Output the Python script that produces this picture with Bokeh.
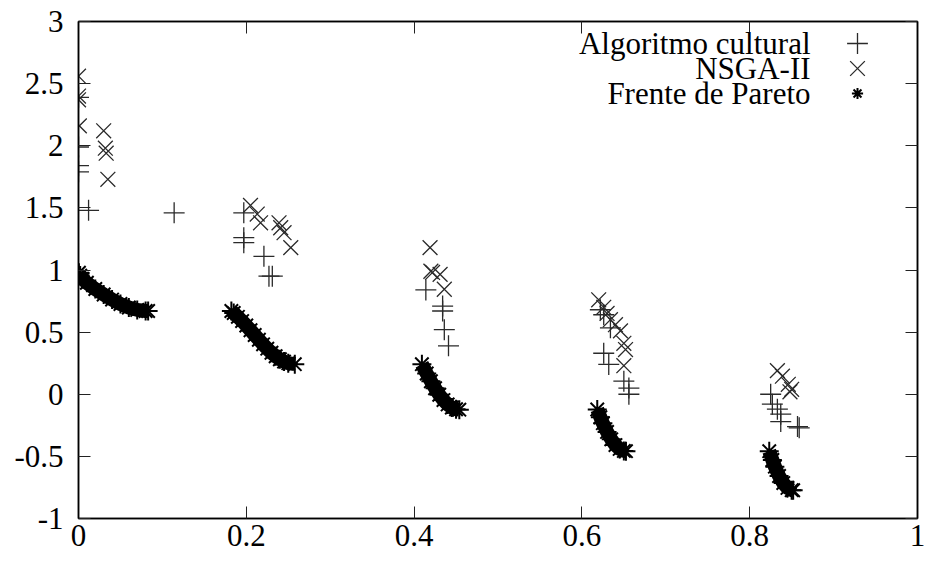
import math
from bokeh.plotting import figure
from bokeh.models import (LinearAxis, FixedTicker, Legend, LegendItem, Label,
                          CustomJSTickFormatter, Range1d)
from bokeh.core.properties import value
from bokeh.embed import file_html
from bokeh.resources import INLINE

# ---------------- data ----------------
x_ticks = [0, 0.2, 0.4, 0.6, 0.8, 1]
x_tick_labels = ["0", "0.2", "0.4", "0.6", "0.8", "1"]
y_ticks = [-1, -0.5, 0, 0.5, 1, 1.5, 2, 2.5, 3]
y_tick_labels = ["-1", "-0.5", "0", "0.5", "1", "1.5", "2", "2.5", "3"]

series_names = ["Algoritmo cultural", "NSGA-II", "Frente de Pareto"]

cultural_x = [0.0, 0.0, 0.0, 0.0, 0.012, 0.114, 0.197, 0.197, 0.197, 0.221, 0.227, 0.231,
              0.414, 0.434, 0.434, 0.436, 0.441,
              0.622, 0.626, 0.634, 0.626, 0.632, 0.650, 0.656, 0.656,
              0.825, 0.827, 0.833, 0.837, 0.837, 0.857, 0.859]
cultural_y = [2.39, 1.99, 1.84, 1.79, 1.48, 1.46, 1.46, 1.26, 1.22, 1.11, 0.95, 0.95,
              0.84, 0.71, 0.67, 0.52, 0.39,
              0.68, 0.64, 0.535, 0.33, 0.24, 0.105, 0.05, 0.0,
              0.0, -0.08, -0.12, -0.16, -0.22, -0.26, -0.27]

nsga_x = [0.0, 0.0, 0.0, 0.001, 0.030, 0.032, 0.033, 0.035,
          0.205, 0.213, 0.217, 0.239, 0.241, 0.245, 0.253,
          0.419, 0.420, 0.422, 0.431, 0.436,
          0.620, 0.626, 0.630, 0.634, 0.640, 0.646, 0.650, 0.652, 0.650,
          0.833, 0.839, 0.846, 0.848, 0.850]
nsga_y = [2.56, 2.40, 2.37, 2.16, 2.12, 1.98, 1.94, 1.73,
          1.52, 1.45, 1.38, 1.38, 1.34, 1.30, 1.18,
          1.18, 0.99, 0.98, 0.965, 0.845,
          0.76, 0.70, 0.65, 0.60, 0.56, 0.51, 0.41, 0.36, 0.23,
          0.19, 0.145, 0.08, 0.02, 0.04]

pareto_x1 = [0.0005, 0.002, 0.005, 0.01, 0.02, 0.03, 0.04, 0.05, 0.06, 0.07, 0.08, 0.083]
pareto_y1 = [0.978, 0.955, 0.928, 0.897, 0.847, 0.803, 0.762, 0.726, 0.698, 0.679, 0.670, 0.670]
pareto_x2 = [0.1822, 0.185, 0.19, 0.195, 0.20, 0.205, 0.21, 0.215, 0.22, 0.225, 0.23, 0.235, 0.24, 0.245, 0.25, 0.2578]
pareto_y2 = [0.670, 0.654, 0.623, 0.589, 0.553, 0.515, 0.477, 0.439, 0.402, 0.367, 0.334, 0.306, 0.282, 0.263, 0.250, 0.242]
pareto_x3 = [0.4093, 0.415, 0.42, 0.425, 0.43, 0.435, 0.44, 0.445, 0.45, 0.4539]
pareto_y3 = [0.242, 0.167, 0.105, 0.048, -0.004, -0.047, -0.082, -0.107, -0.121, -0.124]
pareto_x4 = [0.6183, 0.622, 0.625, 0.63, 0.635, 0.64, 0.645, 0.65, 0.6525]
pareto_y4 = [-0.122, -0.185, -0.233, -0.303, -0.363, -0.409, -0.440, -0.456, -0.458]
pareto_x5 = [0.8233, 0.827, 0.83, 0.835, 0.84, 0.845, 0.85, 0.8518]
pareto_y5 = [-0.458, -0.529, -0.583, -0.658, -0.715, -0.754, -0.772, -0.773]

# ---------------- figure ----------------
FONT = "Liberation Serif"
FS = "31px"

p = figure(width=925, height=560, output_backend="svg", toolbar_location=None,
           x_range=Range1d(0, 1), y_range=Range1d(-1, 3),
           min_border_left=78, min_border_right=8, min_border_top=21, min_border_bottom=42,
           background_fill_color="white", border_fill_color="white")
p.grid.visible = False
p.outline_line_color = "black"
p.outline_line_width = 1.5

def style_axis(ax):
    ax.axis_line_color = "black"
    ax.axis_line_width = 1.5
    ax.major_tick_in = 12
    ax.major_tick_out = 0
    ax.minor_tick_line_color = None
    ax.major_tick_line_color = "#222222"
    ax.major_tick_line_width = 1
    ax.major_label_text_font = FONT
    ax.major_label_text_font_size = FS
    ax.major_label_text_color = "black"

style_axis(p.xaxis[0])
p.xaxis[0].ticker = FixedTicker(ticks=x_ticks)
p.xaxis[0].major_label_overrides = {t: l for t, l in zip(x_ticks, x_tick_labels)}
p.xaxis[0].major_label_standoff = 6
style_axis(p.yaxis[0])
p.yaxis[0].ticker = FixedTicker(ticks=y_ticks)
p.yaxis[0].major_label_overrides = {t: l for t, l in zip(y_ticks, y_tick_labels)}
p.yaxis[0].major_label_standoff = 15

top_ax = LinearAxis(ticker=FixedTicker(ticks=x_ticks), formatter=CustomJSTickFormatter(code="return ''"))
style_axis(top_ax)
top_ax.major_label_standoff = 0
right_ax = LinearAxis(ticker=FixedTicker(ticks=y_ticks), formatter=CustomJSTickFormatter(code="return ''"))
style_axis(right_ax)
right_ax.major_label_standoff = 0
p.add_layout(top_ax, "above")
p.add_layout(right_ax, "right")

# ---------------- glyphs ----------------
segs = [(pareto_x1, pareto_y1), (pareto_x2, pareto_y2), (pareto_x3, pareto_y3),
        (pareto_x4, pareto_y4), (pareto_x5, pareto_y5)]
line_x, line_y, pts_x, pts_y = [], [], [], []
for sx, sy in segs:
    line_x += list(sx) + [math.nan]
    line_y += list(sy) + [math.nan]
    pts_x += list(sx)
    pts_y += list(sy)

p.line(line_x, line_y, line_color="black", line_width=14)
r_par = p.scatter(pts_x, pts_y, marker="asterisk", size=19, line_color="black", line_width=2)
r_cul = p.scatter(cultural_x, cultural_y, marker="cross", size=21, line_color="#2a2a2a", line_width=1.3)
r_nsg = p.scatter(nsga_x, nsga_y, marker="x", size=21, line_color="#2a2a2a", line_width=1.3)

# ---------------- key (text left, symbol right, as in gnuplot) ----------------
FRAME_H = 497
key_rows = [22, 47, 72]          # row centres, px below frame top
key_sym_x = 779                  # symbol centre, px from frame left
key_glyph = [52, 52, 28]
for name, rend, row, g in zip(series_names, [r_cul, r_nsg, r_par], key_rows, key_glyph):
    lg = Legend(items=[LegendItem(label=value(""), renderers=[rend])],
                location=(key_sym_x - g / 2, FRAME_H - row - g / 2),
                glyph_width=g, glyph_height=g, label_width=0, label_height=0,
                label_standoff=0, padding=0, spacing=0, margin=0,
                border_line_color=None, background_fill_alpha=0,
                label_text_font_size="1px")
    p.add_layout(lg, "center")
    p.add_layout(Label(x=0.8725, y=3 - (row / FRAME_H) * 4, text=name,
                       text_align="right", text_baseline="middle",
                       text_font=FONT, text_font_size=FS, text_color="black"))

open("out.html", "w").write(file_html(p, INLINE))
